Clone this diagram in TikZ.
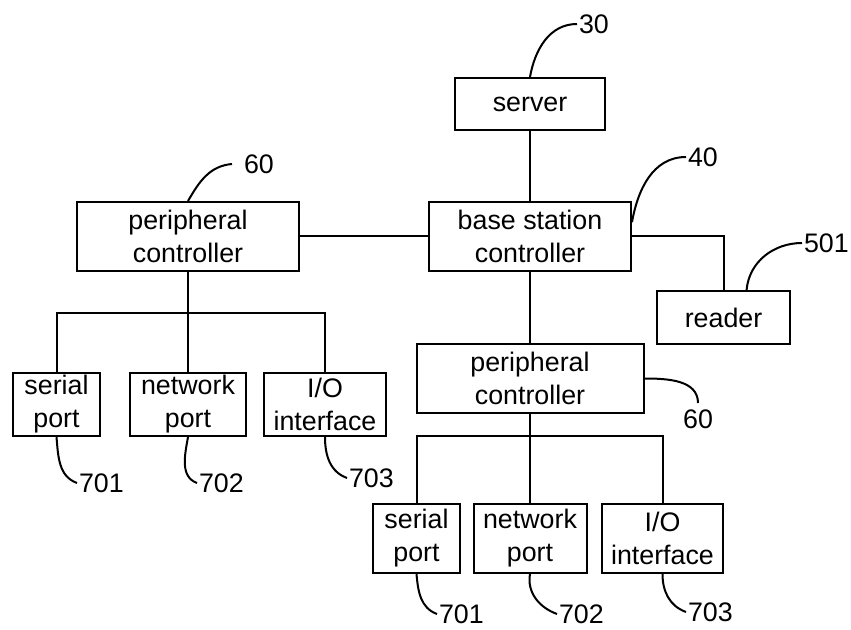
\documentclass[tikz,border=0pt]{standalone}
\usepackage{fontspec}
\setmainfont{Liberation Sans}

\begin{document}
\begin{tikzpicture}[x=0.5pt,y=-0.5pt,line width=1pt,
        blk/.style={draw,rectangle,align=center,inner sep=0pt,
            font=\fontsize{13.4}{16.5}\selectfont},
        num/.style={inner sep=0.5pt,font=\fontsize{13.4}{16}\selectfont}]
    \useasboundingbox (0,0) rectangle (851,630);
    \node[blk,minimum width=75pt,minimum height=26pt] (server) at (530,104) {server};
    \node[blk,minimum width=101pt,minimum height=34.5pt] (bsc) at (530,236.5) {base station\\controller};
    \node[blk,minimum width=111pt,minimum height=34.5pt] (pcl) at (188,236.5) {peripheral\\controller};
    \node[blk,minimum width=66.5pt,minimum height=26.5pt] (reader) at (723.5,317.5) {reader};
    \node[blk,minimum width=113.5pt,minimum height=34.5pt] (pcr) at (530,378.5) {peripheral\\controller};
    \node[blk,minimum width=43.5pt,minimum height=31.5pt] (spl) at (56.5,404.5) {serial\\port};
    \node[blk,minimum width=58pt,minimum height=31.5pt] (npl) at (188,404.5) {network\\port};
    \node[blk,minimum width=61pt,minimum height=31.5pt] (iol) at (325,404.5) {I/O\\interface};
    \node[blk,minimum width=43.5pt,minimum height=34.5pt] (spr) at (416.5,538.5) {serial\\port};
    \node[blk,minimum width=56.5pt,minimum height=34.5pt] (npr) at (530,538.5) {network\\port};
    \node[blk,minimum width=60.5pt,minimum height=34.5pt] (ior) at (662.5,538.5) {I/O\\interface};
    \coordinate (busl) at (188,313);
    \coordinate (busr) at (530,436.5);

    \draw (server) -- (bsc);
    \draw (pcl) -- (bsc);
    \draw (bsc.east) -| (reader.north);
    \draw (bsc) -- (pcr);
    \draw (pcl) -- (npl);
    \draw (spl.north) |- (busl) -| (iol.north);
    \draw (pcr) -- (npr);
    \draw (spr.north) |- (busr) -| (ior.north);

    \node[num,anchor=west] (n30) at (577,24) {30};
    \node[num,anchor=west] (n40) at (686,157) {40};
    \node[num,anchor=west,inner xsep=5.5pt] (n60a) at (232,164) {60};
    \node[num,anchor=west] (n501) at (802,243) {501};
    \node[num,anchor=north,inner ysep=3pt] (n60b) at (698,403) {60};
    \node[num,anchor=west] (n701l) at (77,483) {701};
    \node[num,anchor=west] (n702l) at (197,483) {702};
    \node[num,anchor=west] (n703l) at (347,478) {703};
    \node[num,anchor=west] (n701r) at (437,614) {701};
    \node[num,anchor=west] (n702r) at (557,614) {702};
    \node[num,anchor=west] (n703r) at (686,612) {703};

    \draw (server.north) to[out=80,in=180] (n30.west);
    \draw (bsc.8) to[out=80,in=180] (n40.west);
    \draw (pcl.north) to[out=60,in=185] (n60a.west);
    \draw (reader.50) to[out=85,in=180] (n501.west);
    \draw (pcr.east) to[out=0,in=90] (n60b.north);
    \draw (spl.south) to[out=-85,in=160] (n701l.west);
    \draw (npl.south) to[out=-100,in=160] (n702l.west);
    \draw (iol.south) to[out=-90,in=160] (n703l.west);
    \draw (spr.south) to[out=-85,in=160] (n701r.west);
    \draw (npr.south) to[out=-100,in=160] (n702r.west);
    \draw (ior.south) to[out=-90,in=160] (n703r.west);
\end{tikzpicture}
\end{document}
